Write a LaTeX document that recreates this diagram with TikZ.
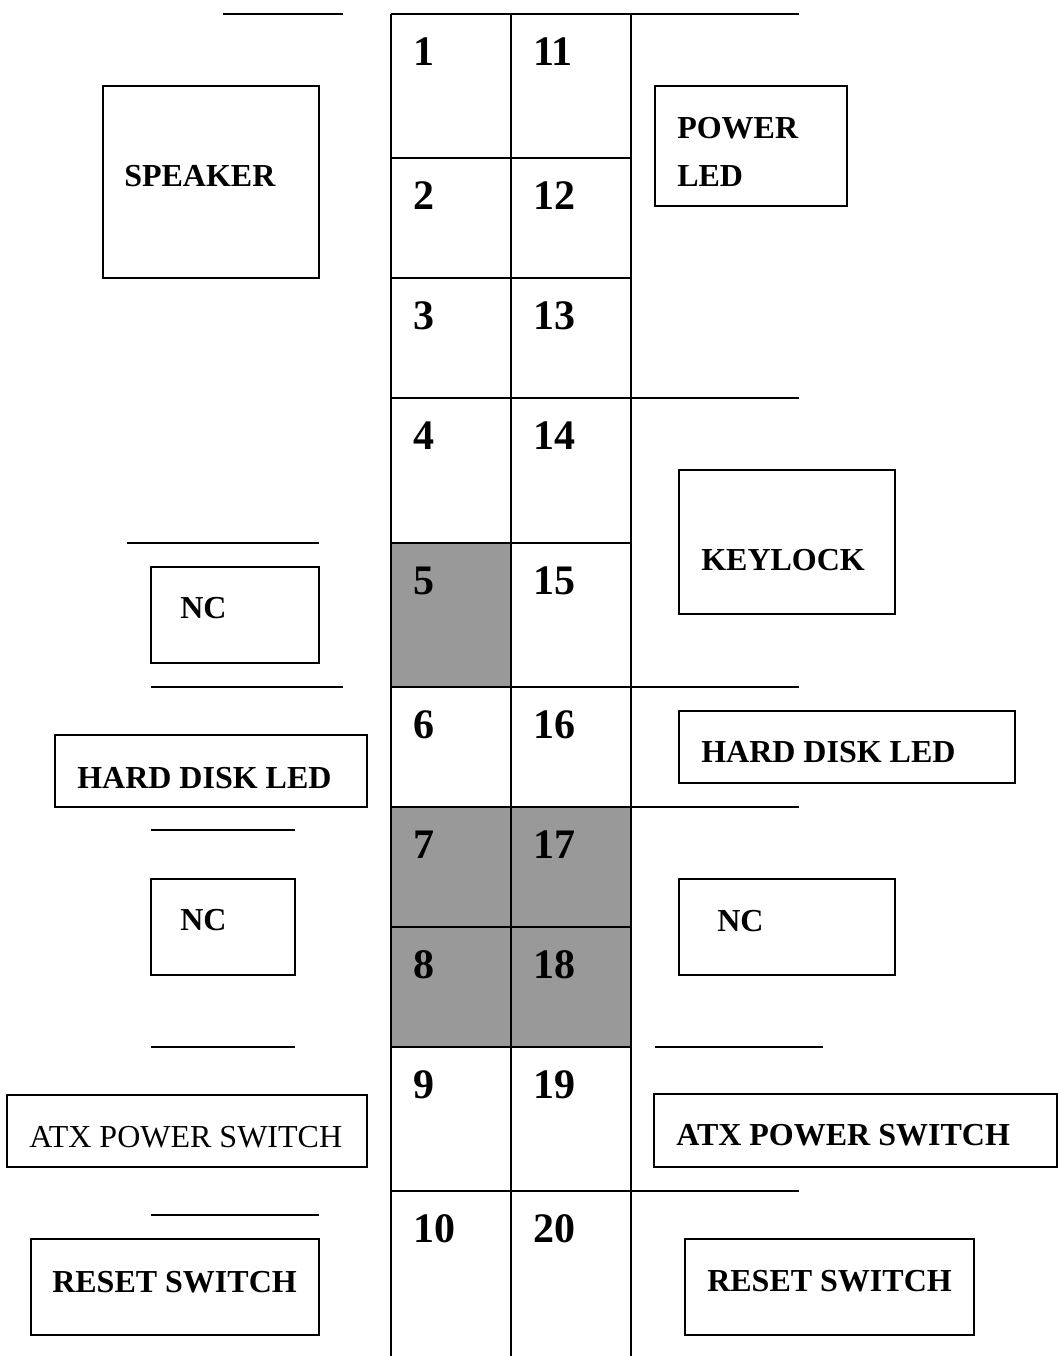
\documentclass[tikz,border=0pt]{standalone}
\usepackage{fontspec}
\setmainfont{Liberation Serif}
\begin{document}
\begin{tikzpicture}[x=0.75pt,y=-0.75pt,
  ln/.style={line width=1.5pt},
  box/.style={draw,line width=1.5pt},
  cell/.style={fill=black!40!white,draw=none},
  num/.style={anchor=base west,inner sep=0pt,font=\bfseries\fontsize{31.5}{36}\selectfont},
  lbl/.style={anchor=base west,inner sep=0pt,font=\bfseries\fontsize{24}{28}\selectfont},
  lblr/.style={anchor=base west,inner sep=0pt,font=\fontsize{24}{28}\selectfont}]
\useasboundingbox (0,0) rectangle (1058,1356);
% shaded cells
\fill[cell] (391,543) rectangle (511,687);
\fill[cell] (391,807) rectangle (631,1047);
% grid
\draw[ln] (391,14) -- (391,1356);
\draw[ln] (511,14) -- (511,1356);
\draw[line width=2.2pt] (631,14) -- (631,1356);
\foreach \y in {14,158,278,398,543,687,807,927,1047,1191}
  \draw[ln] (391,\y) -- (631,\y);
% numbers
\foreach \n/\y in {1/65,2/209,3/329,4/449,5/594,6/738,7/858,8/978,9/1098,10/1242}
  \node[num] (l\n) at (413,\y) {\n};
\foreach \n/\y in {11/65,12/209,13/329,14/449,15/594,16/738,17/858,18/978,19/1098,20/1242}
  \node[num] (r\n) at (533,\y) {\n};
% separator lines
\draw[ln] (223,14) -- (343,14);
\draw[ln] (631,14) -- (799,14);
\draw[ln] (631,398) -- (799,398);
\draw[ln] (127,543) -- (319,543);
\draw[ln] (151,687) -- (343,687);
\draw[ln] (631,687) -- (799,687);
\draw[ln] (631,807) -- (799,807);
\draw[ln] (151,830) -- (295,830);
\draw[ln] (151,1047) -- (295,1047);
\draw[ln] (655,1047) -- (823,1047);
\draw[ln] (631,1191) -- (799,1191);
\draw[ln] (151,1215) -- (319,1215);
% boxes
\draw[box] (103,86) rectangle (319,278);
\draw[box] (655,86) rectangle (847,206);
\draw[box] (679,470) rectangle (895,614);
\draw[box] (151,567) rectangle (319,663);
\draw[box] (55,735) rectangle (367,807);
\draw[box] (679,711) rectangle (1015,783);
\draw[box] (151,879) rectangle (295,975);
\draw[box] (679,879) rectangle (895,975);
\draw[box] (7,1095) rectangle (367,1167);
\draw[box] (654,1094) rectangle (1057,1167);
\draw[box] (31,1239) rectangle (319,1335);
\draw[box] (685,1239) rectangle (974,1335);
% labels
\node[lbl] (spk) at (124,186) {SPEAKER};
\node[lbl] (pw) at (677,138) {POWER};
\node[lbl] (pwl) at (677,186) {LED};
\node[lbl] (kl) at (701,570) {KEYLOCK};
\node[lbl] (nc1) at (180,618) {NC};
\node[lbl] (hdl) at (77,788) {HARD DISK LED};
\node[lbl] (hdr) at (701,762) {HARD DISK LED};
\node[lbl] (nc2) at (180,930) {NC};
\node[lbl] (nc3) at (717,931) {NC};
\node[lblr] (atxl) at (29,1147) {ATX POWER SWITCH};
\node[lbl] (atxr) at (676,1145) {ATX POWER SWITCH};
\node[lbl] (rsl) at (52,1292) {RESET SWITCH};
\node[lbl] (rsr) at (707,1291) {RESET SWITCH};
\end{tikzpicture}
\end{document}
